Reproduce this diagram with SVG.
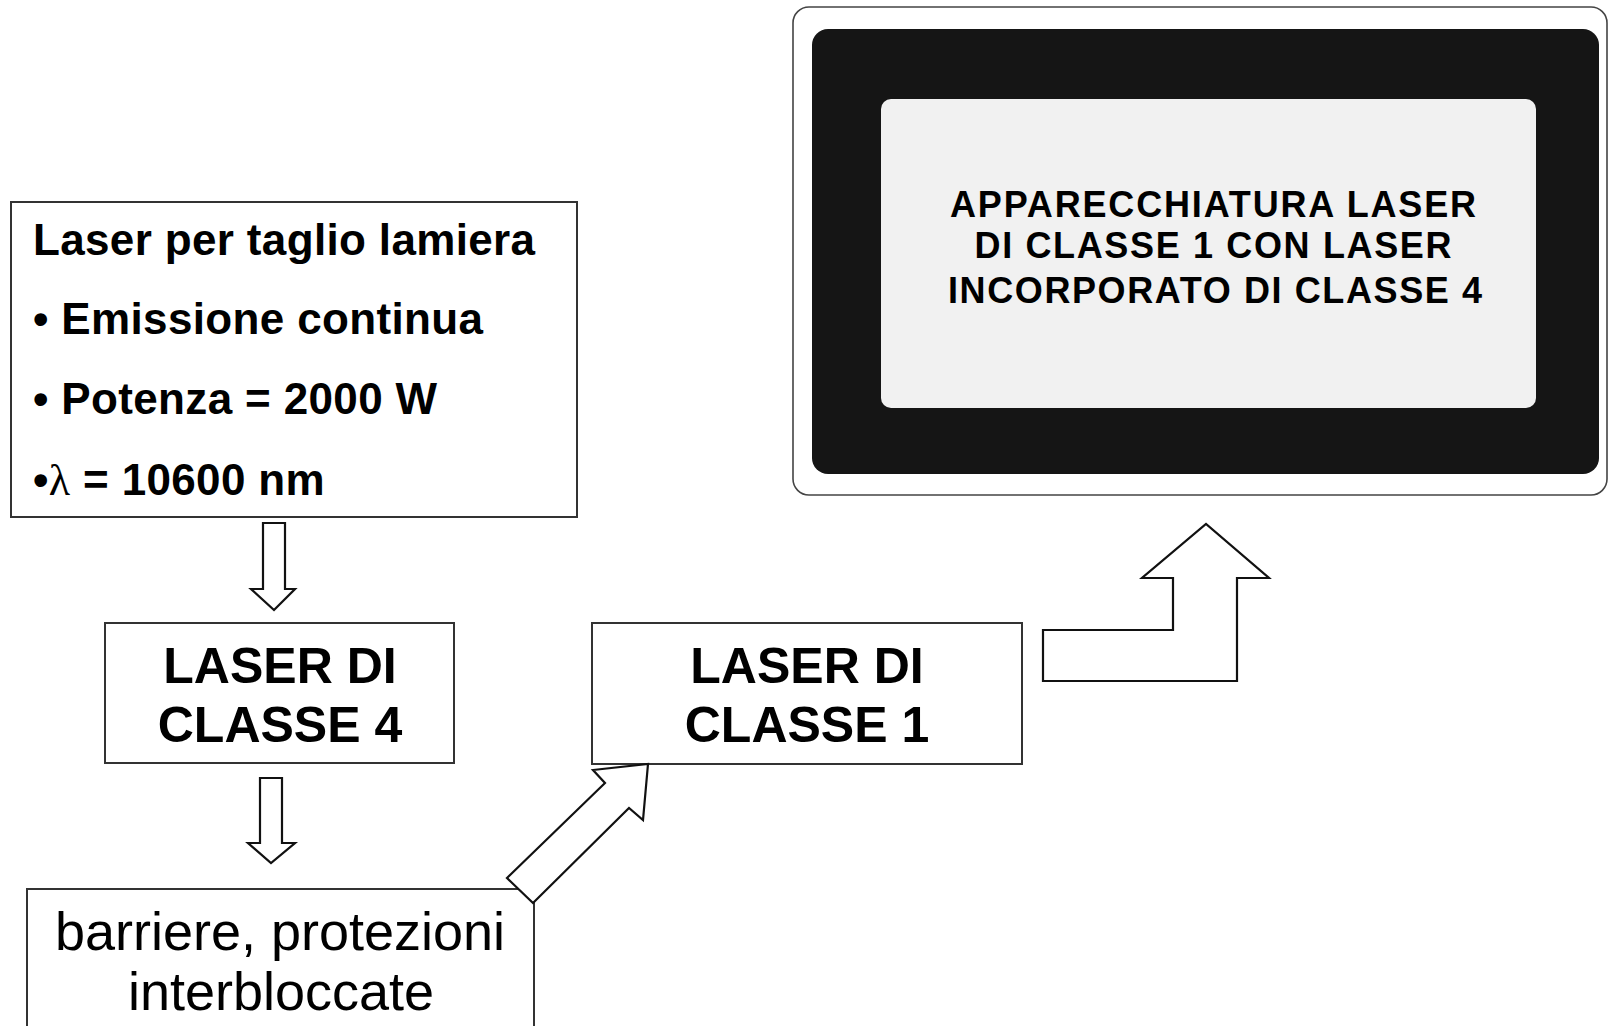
<svg xmlns="http://www.w3.org/2000/svg" width="1608" height="1026" viewBox="0 0 1608 1026">
<style>
.box{fill:#fff;stroke:#333;stroke-width:2}
.arrow{fill:#fff;stroke:#111;stroke-width:2.2;stroke-linejoin:miter}
.t{font-family:"Liberation Sans",Arial,sans-serif;fill:#000}
.b44{font-size:44px;font-weight:bold;letter-spacing:0.35px}
.b50{font-size:50px;font-weight:bold;text-anchor:middle}
.r53{font-size:54px;text-anchor:middle}
.b36{font-size:36px;font-weight:bold;text-anchor:middle}
</style>
<rect width="1608" height="1026" fill="#fff"/>
<g id="node-laser-taglio">
<rect class="box" x="11" y="202" width="566" height="315"/>
<text class="t b44" x="33" y="255">Laser per taglio lamiera</text>
<text class="t b44" x="33" y="334">• Emissione continua</text>
<text class="t b44" x="33" y="414">• Potenza = 2000 W</text>
<text class="t b44" x="33" y="495">•<tspan font-family="Liberation Serif, serif" font-weight="normal">λ</tspan> = 10600 nm</text>
</g>
<g id="node-classe4">
<rect class="box" x="105" y="623" width="349" height="140"/>
<text class="t b50" x="280" y="683">LASER DI</text>
<text class="t b50" x="280" y="742">CLASSE 4</text>
</g>
<g id="node-barriere">
<rect class="box" x="27" y="889" width="507" height="160"/>
<text class="t r53" x="280" y="950">barriere, protezioni</text>
<text class="t r53" x="281" y="1010">interbloccate</text>
</g>
<g id="node-classe1">
<rect class="box" x="592" y="623" width="430" height="141"/>
<text class="t b50" x="807" y="683">LASER DI</text>
<text class="t b50" x="807" y="742">CLASSE 1</text>
</g>
<g id="node-etichetta">
<rect x="793" y="7" width="814" height="488" rx="16" fill="#fff" stroke="#444" stroke-width="1.6"/>
<rect x="812" y="29" width="787" height="445" rx="16" fill="#151515"/>
<rect x="881" y="99" width="655" height="309" rx="10" fill="#f1f1f1"/>
<text class="t b36" x="1213" y="217" textLength="526" lengthAdjust="spacing">APPARECCHIATURA LASER</text>
<text class="t b36" x="1213" y="258" textLength="477" lengthAdjust="spacing">DI CLASSE 1 CON LASER</text>
<text class="t b36" x="1215" y="303" textLength="534" lengthAdjust="spacing">INCORPORATO DI CLASSE 4</text>
</g>
<g id="connectors">
<polygon class="arrow" points="263,523 285,523 285,589 295,589 274,610 251,589 263,589"/>
<polygon class="arrow" points="260,778 282,778 282,843 295,843 271,863 248,843 260,843"/>
<polygon class="arrow" points="507,878 605,783 593,770 648,764 643,820 629,808 533,903"/>
<polygon class="arrow" points="1043,630 1173,630 1173,578 1142,578 1206,524 1269,578 1237,578 1237,681 1043,681"/>
</g>
</svg>
